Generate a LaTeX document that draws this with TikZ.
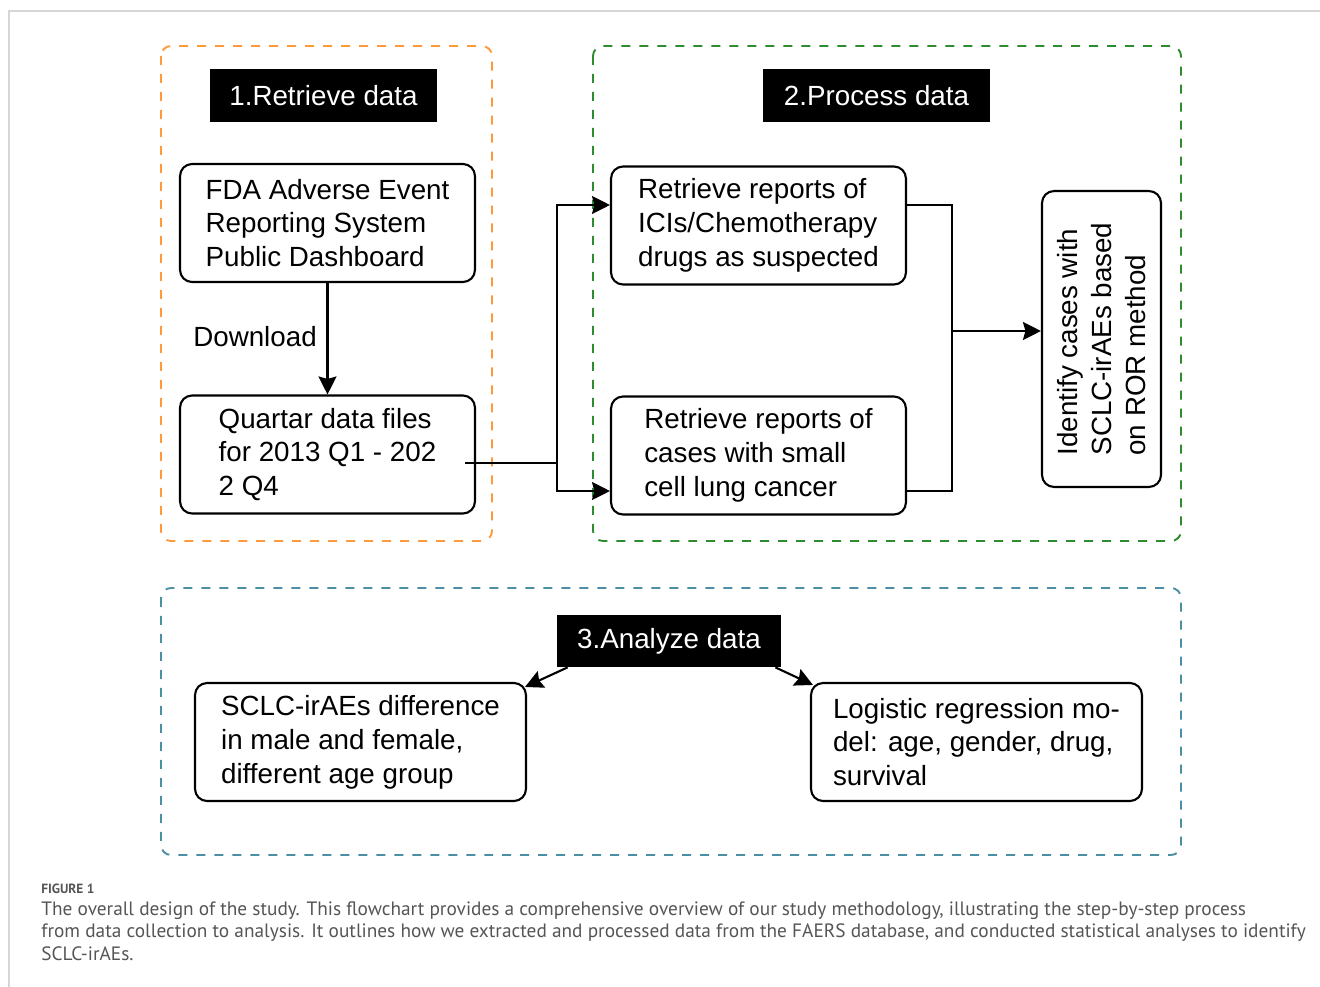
\documentclass[tikz,border=0pt]{standalone}
\usepackage{fontspec}
\setmainfont{Liberation Sans}
\newfontfamily\legenda{PT Sans}
\usetikzlibrary{calc,positioning,arrows.meta}
\definecolor{laranja}{HTML}{FF9A3C}
\definecolor{verde}{HTML}{2E8B2E}
\definecolor{azul}{HTML}{4A8FA3}
\definecolor{moldura}{HTML}{D6D6D6}
\definecolor{cinza}{HTML}{555555}
\tikzset{
  caixa/.style={draw,rounded corners=0.24cm,line width=1.2pt,minimum width=5.9cm,minimum height=2.36cm,align=left,font=\fontsize{15.8}{19.3}\selectfont},
  titulo/.style={fill=black,text=white,minimum width=4.54cm,minimum height=1.06cm,font=\fontsize{15.8}{19.3}\selectfont},
  linha/.style={line width=1.2pt},
  seta/.style={line width=1.2pt,-{Stealth[length=0.36cm,width=0.36cm,inset=0.05cm]}}
}
\newcommand{\grupo}[3]{\draw[#1,line width=1.1pt,rounded corners=0.2cm,dash pattern=on 0.18cm off 0.18cm] #2 rectangle #3;}

\begin{document}
\begin{tikzpicture}[x=0.02cm,y=-0.02cm]
  \useasboundingbox (0,0) rectangle (1320,987);
  \draw[moldura,line width=0.8pt] (9,987) -- (9,11) -- (1320,11);
  \grupo{laranja}{(161,46)}{(492,541)}
  \grupo{verde}{(593,46)}{(1181,541)}
  \grupo{azul}{(161,588)}{(1181,855)}

  \node[titulo] (t1) at (323.5,95.5) {1.Retrieve data};
  \node[titulo] (t2) at (876.5,95.5) {2.Process data};
  \node[titulo,minimum width=4.48cm,minimum height=1.04cm] (t3) at (669,641) {3.Analyze data};

  \node[caixa] (fda) at (327.5,223) {FDA Adverse Event\\Reporting System\\Public Dashboard};
  \node[caixa] (quartar) at (327.5,454.5) {Quartar data files\\for 2013 Q1 - 202\\2 Q4};
  \node[font=\fontsize{15.8}{19.3}\selectfont] (download) at (255,337) {Download};
  \node[caixa] (ici) at (758.5,225.5) {Retrieve reports of\\ICIs/Chemotherapy\\drugs as suspected};
  \node[caixa] (sclc) at (758.5,455.5) {Retrieve reports of\\cases with small\\cell lung cancer};
  \node[caixa,rotate=90,minimum width=5.92cm,minimum height=2.38cm] (ror) at (1101.5,339) {Identify cases with\\SCLC-irAEs based\\on ROR method};
  \node[caixa,minimum width=6.62cm] (diff) at (360.5,742) {SCLC-irAEs difference\\in male and female,\\different age group};
  \node[caixa,minimum width=6.62cm] (logit) at (976.5,742) {Logistic regression mo-\\del: age, gender, drug,\\survival};

  \coordinate (qout) at (465,463);
  \coordinate (split) at (557,463);
  \coordinate (merge) at (952,331);
  \draw[seta] (fda) -- (quartar);
  \draw[linha] (qout) -- (split);
  \draw[seta] (split) |- ($(ici.west)+(0,-20.5)$);
  \draw[seta] (split) |- ($(sclc.west)+(0,35.5)$);
  \draw[linha] ($(ici.east)+(0,-20.5)$) -| (merge) |- ($(sclc.east)+(0,35.5)$);
  \draw[seta] (merge) -- (merge -| ror.north);
  \draw[seta] ($(t3.south west)+(11,0)$) -- ($(diff.north east)+(-2,5)$);
  \draw[seta] ($(t3.south east)+(-6,0)$) -- ($(logit.north west)+(3,3)$);

  \node[anchor=west,inner sep=0pt,text=cinza,font=\legenda\bfseries\fontsize{7.6}{9}\selectfont] (figlabel) at (41,889) {FIGURE 1};
  \node[anchor=north west,inner sep=0pt,align=left,text=cinza,font=\legenda\fontsize{11}{13}\selectfont] (legenda) at (41,901) {The overall design of the study. This flowchart provides a comprehensive overview of our study methodology, illustrating the step-by-step process\\from data collection to analysis. It outlines how we extracted and processed data from the FAERS database, and conducted statistical analyses to identify\\SCLC-irAEs.};
\end{tikzpicture}
\end{document}
